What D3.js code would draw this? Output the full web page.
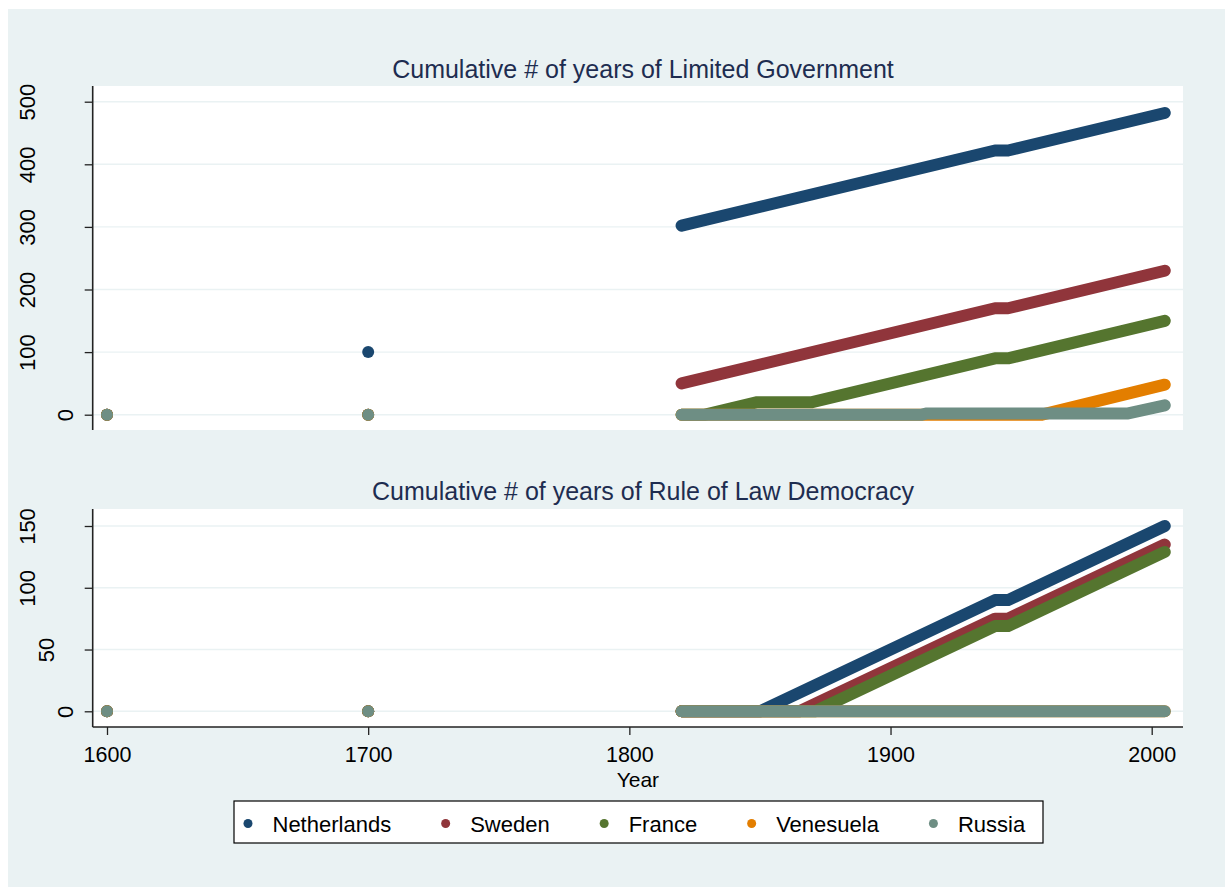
<!DOCTYPE html>
<html>
<head>
<meta charset="utf-8">
<script src="https://cdn.jsdelivr.net/npm/d3@7"></script>
<style>
  body { margin: 0; background: #ffffff; }
  text { font-family: "Liberation Sans", Arial, Helvetica, sans-serif; }
</style>
</head>
<body>
<svg id="chart" width="1225" height="887"></svg>
<script>
// ---- data -------------------------------------------------------------
const countries = ["Netherlands", "Sweden", "France", "Venesuela", "Russia"];
const countryColors = ["#1a476f", "#90353b", "#55752f", "#e37e00", "#6e8e84"];

// isolated early observations
const earlyYears = [1600, 1700];
const limitedEarly = [[0, 100], [0, 0], [0, 0], [0, 0], [0, 0]];
const lawEarly = [[0, 0], [0, 0], [0, 0], [0, 0], [0, 0]];

// cumulative # of years of limited government, [year, years]
const limitedNetherlands = [[1820, 302], [1940, 422], [1945, 422], [2005, 482]];
const limitedSweden = [[1820, 50], [1940, 170], [1945, 170], [2005, 230]];
const limitedFrance = [[1820, 0], [1829, 0], [1849, 20], [1870, 20], [1940, 90], [1945, 90], [2005, 150]];
const limitedVenesuela = [[1820, 0], [1958, 0], [2005, 48]];
const limitedRussia = [[1820, 0], [1912, 0], [1914, 2], [1991, 2], [2005, 15]];

// cumulative # of years of rule of law democracy, [year, years]
const lawNetherlands = [[1820, 0], [1850, 0], [1940, 90], [1945, 90], [2005, 150]];
const lawSweden = [[1820, 0], [1865, 0], [1940, 75], [1945, 75], [2005, 135]];
const lawFrance = [[1820, 0], [1871, 0], [1940, 69], [1945, 69], [2005, 129]];
const lawVenesuela = [[1820, 0], [2005, 0]];
const lawRussia = [[1820, 0], [2005, 0]];

const xTicks = [1600, 1700, 1800, 1900, 2000];
const limitedTicks = [0, 100, 200, 300, 400, 500];
const lawTicks = [0, 50, 100, 150];

const panels = [
  {
    title: "Cumulative # of years of Limited Government",
    series: [limitedNetherlands, limitedSweden, limitedFrance, limitedVenesuela, limitedRussia],
    early: limitedEarly,
    ticks: limitedTicks,
    domain: [0, 500],
    range: [414.7, 101.7],
    box: { top: 86, bottom: 430 },
    titleY: 78,
    xAxis: false
  },
  {
    title: "Cumulative # of years of Rule of Law Democracy",
    series: [lawNetherlands, lawSweden, lawFrance, lawVenesuela, lawRussia],
    early: lawEarly,
    ticks: lawTicks,
    domain: [0, 150],
    range: [711.3, 526],
    box: { top: 509, bottom: 727 },
    titleY: 500,
    xAxis: true
  }
];

// ---- layout -----------------------------------------------------------
const svg = d3.select("#chart");
const plotLeft = 92.7, plotRight = 1183;
const markerSize = 12;
const tickLen = 8;

const x = d3.scaleLinear().domain([1600, 2000]).range([107, 1151.7]);

svg.append("rect")
  .attr("x", 8).attr("y", 9).attr("width", 1225 - 8).attr("height", 887 - 9)
  .attr("fill", "#eaf2f3");

panels.forEach(p => {
  const y = d3.scaleLinear().domain(p.domain).range(p.range);
  const g = svg.append("g");

  // plot region
  g.append("rect")
    .attr("x", plotLeft).attr("y", p.box.top)
    .attr("width", plotRight - plotLeft).attr("height", p.box.bottom - p.box.top)
    .attr("fill", "#ffffff");

  // gridlines
  g.selectAll(".grid").data(p.ticks).join("line")
    .attr("x1", plotLeft).attr("x2", plotRight)
    .attr("y1", d => y(d)).attr("y2", d => y(d))
    .attr("stroke", "#eaf2f3").attr("stroke-width", 1.4);

  // title
  g.append("text")
    .attr("x", 643).attr("y", p.titleY)
    .attr("text-anchor", "middle")
    .attr("font-size", 25)
    .attr("fill", "#1e2d50")
    .text(p.title);

  // series drawn as runs of dense markers
  const line = d3.line().x(d => x(d[0])).y(d => y(d[1]));
  p.series.forEach((s, i) => {
    g.append("path")
      .datum(s)
      .attr("d", line)
      .attr("fill", "none")
      .attr("stroke", countryColors[i])
      .attr("stroke-width", markerSize)
      .attr("stroke-linecap", "round")
      .attr("stroke-linejoin", "round");
    g.selectAll(null).data(p.early[i]).join("circle")
      .attr("cx", (d, k) => x(earlyYears[k]))
      .attr("cy", d => y(d))
      .attr("r", markerSize / 2)
      .attr("fill", countryColors[i]);
  });

  // y axis
  const yAxis = g.append("g")
    .attr("transform", `translate(${plotLeft},0)`)
    .call(d3.axisLeft(y).tickValues(p.ticks).tickSize(tickLen).tickFormat(d3.format("d")));
  yAxis.select(".domain").remove();
  yAxis.selectAll(".tick line").attr("stroke", "#222").attr("stroke-width", 1.3);
  yAxis.selectAll(".tick text")
    .attr("transform", "rotate(-90)")
    .attr("x", 0)
    .attr("y", function () { return -(tickLen + 19.25 * this.textContent.length); })
    .attr("dy", "0.35em")
    .attr("text-anchor", "middle")
    .attr("font-size", 22)
    .attr("font-family", "Liberation Sans, Arial, sans-serif")
    .attr("fill", "#000");
  g.append("line")
    .attr("x1", plotLeft).attr("x2", plotLeft)
    .attr("y1", p.box.top).attr("y2", p.box.bottom)
    .attr("stroke", "#222").attr("stroke-width", 1.6);

  if (p.xAxis) {
    const xAxis = g.append("g")
      .attr("transform", `translate(0,${p.box.bottom})`)
      .call(d3.axisBottom(x).tickValues(xTicks).tickSize(tickLen).tickFormat(d3.format("d")));
    xAxis.select(".domain").remove();
    xAxis.selectAll(".tick line").attr("stroke", "#222").attr("stroke-width", 1.3);
    xAxis.selectAll(".tick text")
      .attr("y", 35).attr("dy", 0)
      .attr("font-size", 21.5)
      .attr("font-family", "Liberation Sans, Arial, sans-serif")
      .attr("fill", "#000");
    g.append("line")
      .attr("x1", plotLeft).attr("x2", plotRight)
      .attr("y1", p.box.bottom).attr("y2", p.box.bottom)
      .attr("stroke", "#222").attr("stroke-width", 1.6);
    g.append("text")
      .attr("x", (plotLeft + plotRight) / 2).attr("y", 787)
      .attr("text-anchor", "middle")
      .attr("font-size", 21)
      .attr("fill", "#000")
      .text("Year");
  }
});

// ---- legend -----------------------------------------------------------
const legend = svg.append("g");
legend.append("rect")
  .attr("x", 234).attr("y", 801).attr("width", 809).attr("height", 42)
  .attr("fill", "#ffffff").attr("stroke", "#000").attr("stroke-width", 1.2);

let cursor = 248;
countries.forEach((c, i) => {
  legend.append("circle")
    .attr("cx", cursor).attr("cy", 823.5).attr("r", 4.5)
    .attr("fill", countryColors[i]);
  const t = legend.append("text")
    .attr("x", cursor + 24.5).attr("y", 831.5)
    .attr("font-size", 22).attr("fill", "#000")
    .text(c);
  cursor += 24.5 + t.node().getComputedTextLength() + 54.5;
});
</script>
</body>
</html>
